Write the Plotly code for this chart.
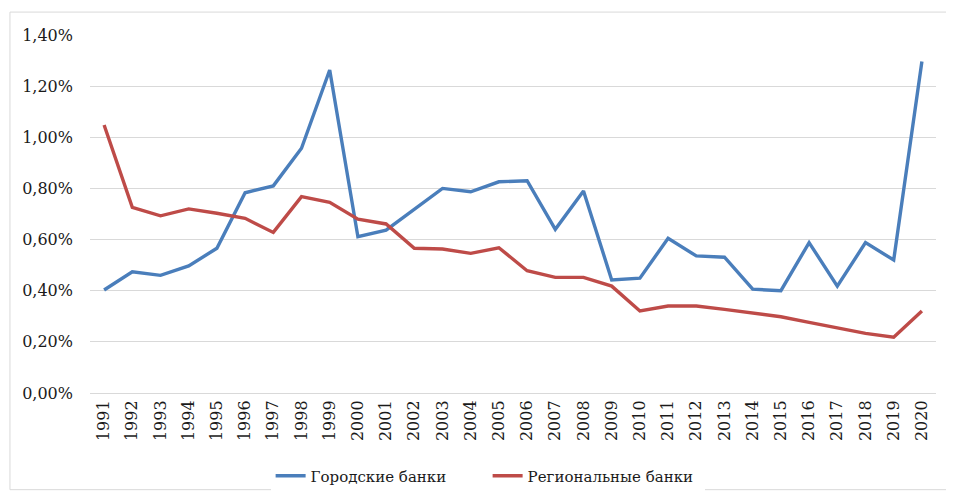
import plotly.graph_objects as go

years = [str(y) for y in range(1991, 2021)]
city_banks = [0.403, 0.474, 0.460, 0.497, 0.566, 0.783, 0.810, 0.957, 1.263, 0.611,
              0.637, 0.718, 0.800, 0.787, 0.826, 0.830, 0.640, 0.790, 0.442, 0.449,
              0.605, 0.536, 0.531, 0.406, 0.400, 0.588, 0.418, 0.588, 0.520, 1.296]
regional_banks = [1.048, 0.726, 0.693, 0.720, 0.703, 0.683, 0.628, 0.768, 0.746, 0.680,
                  0.661, 0.566, 0.563, 0.546, 0.568, 0.478, 0.452, 0.452, 0.418, 0.321,
                  0.340, 0.340, 0.327, 0.312, 0.298, 0.276, 0.253, 0.233, 0.218, 0.321]
y_ticks = [0, 0.2, 0.4, 0.6, 0.8, 1.0, 1.2, 1.4]

city_pct = [v / 100 for v in city_banks]
reg_pct = [v / 100 for v in regional_banks]

font_family = "DejaVu Serif"

fig = go.Figure()
fig.add_trace(go.Scatter(x=years, y=city_pct, mode="lines", name="Городские банки",
                         line=dict(color="#4A7EBB", width=3.4)))
fig.add_trace(go.Scatter(x=years, y=reg_pct, mode="lines", name="Региональные банки",
                         line=dict(color="#BE4B48", width=3.4)))

fig.update_layout(
    width=938, height=485,
    margin=dict(l=82, r=10, t=27, b=100),
    paper_bgcolor="white", plot_bgcolor="white",
    separators=", ",
    font=dict(family=font_family, size=16, color="#1a1a1a"),
    showlegend=True,
    legend=dict(orientation="h", x=0.47, xanchor="center", xref="paper",
                y=0.035, yanchor="middle", yref="container",
                font=dict(family=font_family, size=15, color="#1a1a1a"),
                itemwidth=30, entrywidth=172, entrywidthmode="pixels"),
    xaxis=dict(type="category", range=[-0.5, len(years) - 0.5], tickangle=-90,
               showgrid=False, showline=True, automargin=False,
               linecolor="#D9D9D9", linewidth=1, ticks="",
               tickfont=dict(family=font_family, size=16, color="#1a1a1a")),
    yaxis=dict(range=[0, 1.4 / 100], tickvals=[v / 100 for v in y_ticks], tickformat=".2%",
               showgrid=True, gridcolor="#D9D9D9", gridwidth=1, zeroline=False,
               showline=False, ticks="", ticklabelstandoff=16, automargin=False,
               tickfont=dict(family=font_family, size=16, color="#1a1a1a")),
    shapes=[dict(type="rect", xref="paper", yref="paper",
                 x0=-0.0946, x1=1.0142, y0=-0.27, y1=1.064,
                 line=dict(color="#D9D9D9", width=1), fillcolor="rgba(0,0,0,0)", layer="below")],
)

fig.write_html("out.html")
